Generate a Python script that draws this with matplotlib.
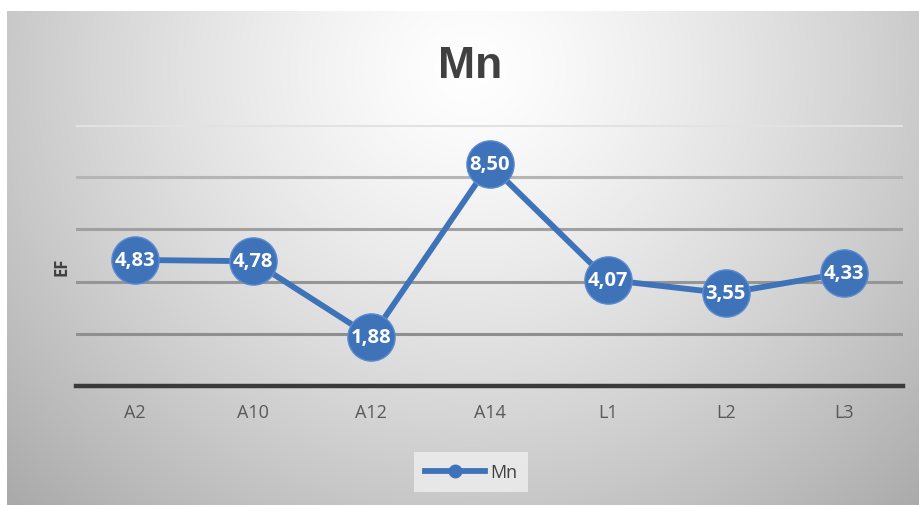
import numpy as np
import matplotlib
matplotlib.use("Agg")
import matplotlib.pyplot as plt
from matplotlib.lines import Line2D

categories = ["A2", "A10", "A12", "A14", "L1", "L2", "L3"]
ef_values = [4.83, 4.78, 1.88, 8.50, 4.07, 3.55, 4.33]
series_name = "Mn"
y_ticks = [0, 2, 4, 6, 8, 10]

W, H = 919, 506
DPI = 100
fig = plt.figure(figsize=(W / DPI, H / DPI), dpi=DPI)
fig.patch.set_facecolor("white")

# radial grey gradient for the chart area
bg = fig.add_axes([0, 0, 1, 1])
bg.set_xlim(0, W)
bg.set_ylim(H, 0)
bg.axis("off")
yy, xx = np.mgrid[0:H, 0:W]
cx, cy = 470, 70
r = np.sqrt(((xx - cx) / 540.0) ** 2 + ((yy - cy) / 500.0) ** 2)
shade = 1.0 - 0.26 * np.clip(r, 0, 1.2) ** 1.3
img = np.dstack([shade, shade, shade])
img[:12, :, :] = 1.0
img[:, :7, :] = 1.0
bg.imshow(img, extent=(0, W, H, 0), interpolation="bilinear", aspect="auto")

ax = fig.add_axes([76 / W, (H - 387) / H, (903 - 76) / W, (387 - 126) / H])
ax.patch.set_alpha(0)
x = np.arange(len(categories))
ax.set_xlim(-0.5, len(categories) - 0.5)
ax.set_ylim(0, 10)

grid_colors = {2: "#8f8f8f", 4: "#959595", 6: "#a0a0a0", 8: "#b5b5b5", 10: "#e2e2e2"}
for t in y_ticks[1:]:
    ax.axhline(t, color=grid_colors[t], lw=2.2, zorder=1)
ax.axhline(0, color="#3a3a3a", lw=3.2, zorder=2, clip_on=False)

for s in ax.spines.values():
    s.set_visible(False)
ax.set_yticks([])
ax.set_xticks(x)
ax.set_xticklabels(categories, color="#595959", fontsize=13, family="Open Sans")
ax.tick_params(axis="x", length=0, pad=12)

blue = "#3f73b9"
ax.plot(x, ef_values, color=blue, lw=4.2, zorder=3, solid_capstyle="round",
        marker="o", markersize=34, markerfacecolor=blue,
        markeredgecolor="#5b8bd0", markeredgewidth=1.0, clip_on=False)
for xi, v in zip(x, ef_values):
    ax.text(xi, v, f"{v:.2f}".replace(".", ","), ha="center", va="center",
            color="white", fontsize=14.5, fontweight="bold", family="Open Sans",
            zorder=5)

fig.text(62 / W, 1 - 267 / H, "EF", rotation=90, ha="center", va="center",
         fontsize=12, fontweight="bold", color="#404040", family="Open Sans")
fig.text(470 / W, 1 - 67 / H, "Mn", ha="center", va="center",
         fontsize=32, fontweight="bold", color="#404040", family="Liberation Sans")

handle = Line2D([0], [0], color=blue, lw=4.2, marker="o", markersize=9,
                markerfacecolor=blue, markeredgecolor=blue)
leg = fig.legend([handle], [series_name], loc="center",
                 bbox_to_anchor=(471 / W, 1 - 473 / H), frameon=True,
                 fontsize=13, handlelength=3.3, handletextpad=0.3,
                 borderpad=0.6, fancybox=False)
leg.get_frame().set_facecolor("#ebebeb")
leg.get_frame().set_edgecolor("none")
leg.get_frame().set_alpha(0.9)
for t in leg.get_texts():
    t.set_color("#404040")
    t.set_family("Open Sans")

fig.savefig("out.png", dpi=DPI)
